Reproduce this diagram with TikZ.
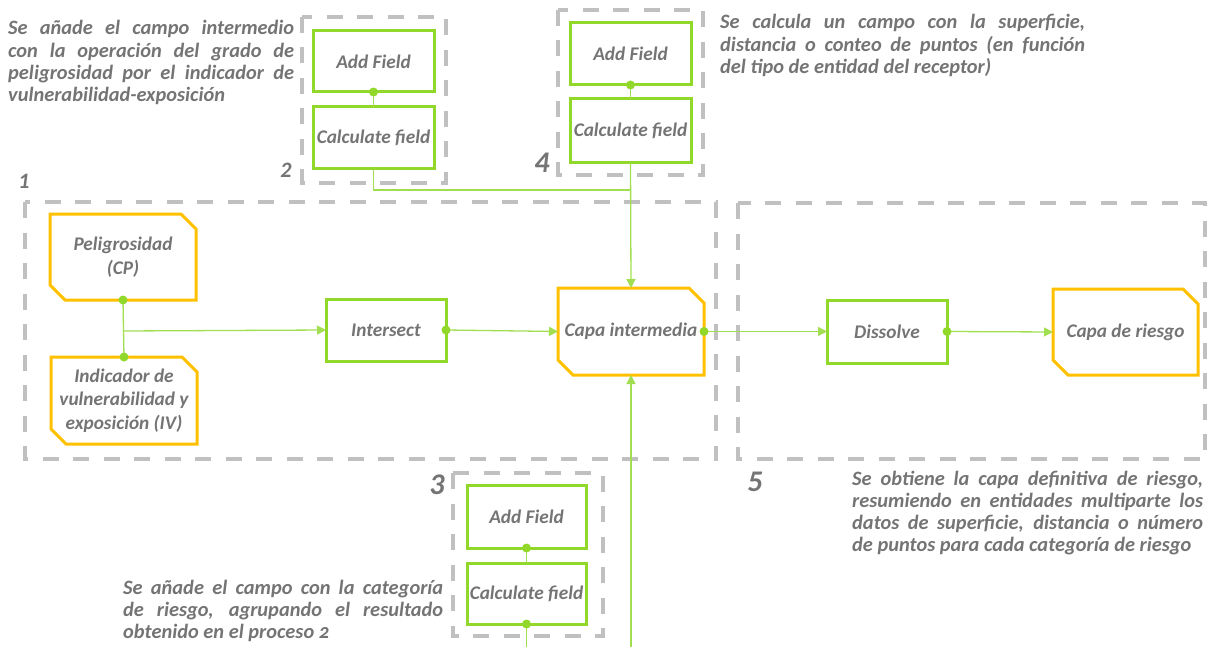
\documentclass[tikz,border=0pt]{standalone}
\usepackage{fontspec}
\setmainfont{Carlito}
\usetikzlibrary{arrows.meta}
\definecolor{gr}{HTML}{92D82B}
\definecolor{yl}{HTML}{FFC000}
\definecolor{dg}{HTML}{C0C0C0}
\definecolor{tx}{HTML}{747474}
\definecolor{ln}{HTML}{A2DE52}
\tikzset{
 lbl/.style={text=tx, font=\fontsize{19.3}{23.5}\selectfont\bfseries\itshape, inner sep=0pt, outer sep=0pt, align=center},
 gbox/.style={lbl, draw=gr, line width=3pt},
 ybox/.style={lbl},
 chamf/.style={draw=yl, line width=3pt, line join=miter},
 dashbox/.style={draw=dg, line width=4pt, dash pattern=on 16pt off 14.5pt},
 conn/.style={draw=ln, line width=1.3pt},
 arr/.style={conn, -{Triangle[length=9pt,width=9pt]}},
 dot/.style={circle, fill=gr, inner sep=0pt, minimum size=9pt},
 num/.style={text=tx, font=\fontsize{22}{22}\selectfont\bfseries\itshape, inner sep=0pt},
 bignum/.style={text=tx, font=\fontsize{30}{30}\selectfont\bfseries\itshape, inner sep=0pt},
 note/.style={text=tx, font=\fontsize{20.4}{22.2}\selectfont\bfseries\itshape, align=justify, inner sep=0pt, anchor=base west},
}
\begin{document}
\begin{tikzpicture}[x=1pt,y=-1pt]
\path[use as bounding box] (0,0) rectangle (1212,647);
\clip (0,0) rectangle (1212,647);

% dashed group frames
\draw[dashbox] (25,202) rectangle (716,459);
\draw[dashbox] (302,17) rectangle (446,183);
\draw[dashbox] (558,10) rectangle (703,175);
\draw[dashbox] (453,473) rectangle (603,636);
\draw[dashbox] (738,203) rectangle (1205,459);

% group numbers
\node[num] (n1) at (24,181) {1};
\node[num] (n2) at (286,170) {2};
\node[bignum] (n4) at (542,163) {4};
\node[bignum] (n3) at (437,485) {3};
\node[bignum] (n5) at (755,482) {5};

% nodes
\node[ybox, minimum width=146pt, minimum height=86pt] (pel) at (123,257) {Peligrosidad\\(CP)};
\node[ybox, minimum width=146pt, minimum height=87pt] (ind) at (124,400.5) {Indicador de\\vulnerabilidad y\\exposición (IV)};
\node[gbox, minimum width=120pt, minimum height=62pt] (inter) at (386,330) {Intersect};
\node[ybox, minimum width=146pt, minimum height=87pt] (capa) at (631,331.5) {Capa intermedia};
\node[gbox, minimum width=120pt, minimum height=63pt] (diss) at (887,331.5) {Dissolve};
\node[ybox, minimum width=145pt, minimum height=86pt] (riesgo) at (1125.5,332) {Capa de riesgo};

\node[gbox, minimum width=121pt, minimum height=61pt] (af2) at (373.5,61.5) {Add Field};
\node[gbox, minimum width=121pt, minimum height=62pt] (cf2) at (373.5,138) {Calculate field};
\node[gbox, minimum width=121pt, minimum height=62pt] (af4) at (630.5,54) {Add Field};
\node[gbox, minimum width=121pt, minimum height=64pt] (cf4) at (630.5,131) {Calculate field};
\node[gbox, minimum width=119pt, minimum height=63pt] (af3) at (526.5,516.5) {Add Field};
\node[gbox, minimum width=119pt, minimum height=61pt] (cf3) at (526.5,593.5) {Calculate field};

\foreach \n in {pel,ind,capa,riesgo}
  \draw[chamf] (\n.north west) -- ([xshift=-15pt]\n.north east) -- ([yshift=-15pt]\n.north east)
     -- (\n.south east) -- ([xshift=15pt]\n.south west) -- ([yshift=15pt]\n.south west) -- cycle;

% connectors
\coordinate (j4) at (630.5,190);
\coordinate (b3) at (526.5,680);
\coordinate (br) at (123,331);
\draw[conn] (pel.south) -- (ind.north);
\draw[arr] (br) -- (inter.west);
\draw[arr] (inter.east) -- (capa.west);
\draw[arr] (capa.east) -- (diss.west);
\draw[arr] (diss.east) -- (riesgo.west);
\draw[conn] (af2.south) -- (cf2.north);
\draw[conn] (cf2.south) |- (j4);
\draw[conn] (af4.south) -- (cf4.north);
\draw[arr] (cf4.south) -- (capa.north);
\draw[conn] (af3.south) -- (cf3.north);
\draw[arr] (cf3.south) -- (b3) -| (capa.south);

% dots
\node[dot] (d1) at (pel.south) {};
\node[dot] (d2) at (ind.north) {};
\node[dot] (d3) at (inter.east) {};
\node[dot] (d4) at (capa.east) {};
\node[dot] (d5) at (diss.east) {};
\node[dot] (d6) at (af2.south) {};
\node[dot] (d7) at (af4.south) {};
\node[dot] (d8) at (af3.south) {};
\node[dot] (d9) at (cf3.south) {};

% notes
\node[note, text width=286pt] (t1) at (8,35) {Se añade el campo intermedio\linebreak con la operación del grado de\linebreak peligrosidad por el indicador de\linebreak vulnerabilidad-exposición};
\node[note, text width=365pt] (t4) at (720,29) {Se calcula un campo con la superficie,\linebreak distancia o conteo de puntos (en función\linebreak del tipo de entidad del receptor)};
\node[note, text width=320pt] (t3) at (123,594) {Se añade el campo con la categoría\linebreak de riesgo, agrupando el resultado\linebreak obtenido en el proceso {\addfontfeatures{Numbers=OldStyle}2}};
\node[note, text width=351pt] (t5) at (852,485) {Se obtiene la capa definitiva de riesgo,\linebreak resumiendo en entidades multiparte los\linebreak datos de superficie, distancia o número\linebreak de puntos para cada categoría de riesgo};
\end{tikzpicture}
\end{document}
